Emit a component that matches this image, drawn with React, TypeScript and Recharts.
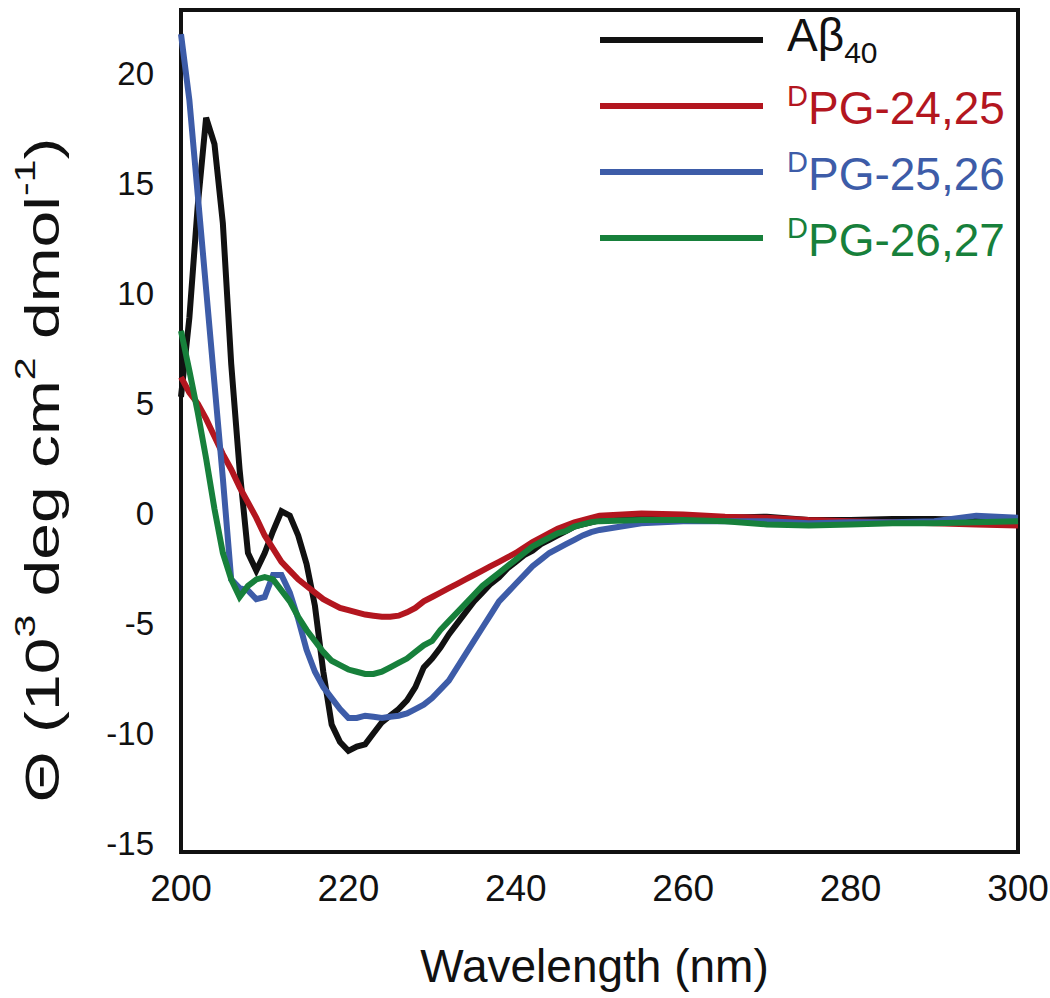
import React from 'react';
import { LineChart, Line, XAxis, YAxis, Legend, ReferenceArea } from 'recharts';

// CD spectra, wavelength in nm, ellipticity in 10^3 deg cm2 dmol-1
const wavelengths = [
  200, 201, 202, 203, 204, 205, 206, 207, 208, 209,
  210, 211, 212, 213, 214, 215, 216, 217, 218, 219,
  220, 221, 222, 223, 224, 225, 226, 227, 228, 229,
  230, 231, 232, 233, 234, 235, 236, 237, 238, 239,
  240, 241, 242, 243, 244, 245, 246, 247, 248, 249,
  250, 255, 260, 265, 270, 275, 280, 285, 290, 295, 300,
];

const abeta40 = [
  5.3, 8.9, 14.0, 18.0, 16.8, 13.2, 6.8, 2.0, -1.8, -2.6,
  -1.8, -0.8, 0.1, -0.1, -1.0, -2.3, -4.2, -7.2, -9.6, -10.4,
  -10.8, -10.6, -10.5, -10.0, -9.5, -9.2, -8.9, -8.5, -7.9, -7.0,
  -6.6, -6.1, -5.5, -5.0, -4.5, -4.0, -3.6, -3.2, -2.9, -2.5,
  -2.2, -1.9, -1.7, -1.4, -1.2, -1.0, -0.8, -0.6, -0.5, -0.4,
  -0.3, -0.15, -0.15, -0.2, -0.15, -0.3, -0.3, -0.25, -0.25, -0.3, -0.35,
];

const pg2425 = [
  6.2, 5.5, 5.0, 4.3, 3.5, 2.7, 2.0, 1.2, 0.5, -0.2,
  -1.0, -1.6, -2.2, -2.6, -3.0, -3.3, -3.6, -3.9, -4.1, -4.3,
  -4.4, -4.5, -4.6, -4.65, -4.7, -4.7, -4.65, -4.5, -4.3, -4.0,
  -3.8, -3.6, -3.4, -3.2, -3.0, -2.8, -2.6, -2.4, -2.2, -2.0,
  -1.8, -1.55, -1.3, -1.1, -0.9, -0.7, -0.55, -0.4, -0.3, -0.2,
  -0.1, 0.0, -0.05, -0.15, -0.2, -0.3, -0.35, -0.4, -0.45, -0.5, -0.55,
];

const pg2526 = [
  21.8, 18.8, 14.5, 10.2, 5.9, 1.6, -3.0, -3.4, -3.5, -3.9,
  -3.8, -2.8, -2.8, -3.6, -4.8, -6.2, -7.2, -7.9, -8.4, -8.9,
  -9.3, -9.3, -9.2, -9.25, -9.3, -9.25, -9.2, -9.1, -8.9, -8.7,
  -8.4, -8.0, -7.6, -7.0, -6.4, -5.8, -5.2, -4.6, -4.0, -3.6,
  -3.2, -2.8, -2.4, -2.1, -1.8, -1.6, -1.4, -1.2, -1.0, -0.85,
  -0.75, -0.45, -0.35, -0.35, -0.35, -0.45, -0.4, -0.4, -0.35, -0.1, -0.2,
];

const pg2627 = [
  8.3, 6.5, 4.6, 2.5, 0.2, -1.8, -3.0, -3.8, -3.3, -3.0,
  -2.9, -3.0, -3.5, -4.0, -4.7, -5.3, -5.8, -6.3, -6.7, -6.9,
  -7.1, -7.2, -7.3, -7.3, -7.2, -7.0, -6.8, -6.6, -6.3, -6.0,
  -5.8, -5.3, -4.9, -4.5, -4.1, -3.7, -3.3, -3.0, -2.7, -2.4,
  -2.1, -1.8, -1.5, -1.3, -1.1, -0.9, -0.8, -0.6, -0.5, -0.4,
  -0.35, -0.3, -0.3, -0.35, -0.5, -0.55, -0.5, -0.45, -0.45, -0.4, -0.35,
];

const xTicks = [200, 220, 240, 260, 280, 300];
const yTicks = [-15, -10, -5, 0, 5, 10, 15, 20];

const X_DOMAIN = [200, 300];
const Y_DOMAIN = [-15.4, 22.9];

const FONT = '"Liberation Sans", Arial, Helvetica, sans-serif';

// legend order = drawing order in the reference
const series = [
  { key: 'ab', color: '#111111', sup: '', main: 'Aβ', sub: '40' },
  { key: 'p2425', color: '#b3161f', sup: 'D', main: 'PG-24,25', sub: '' },
  { key: 'p2526', color: '#3d5ca8', sup: 'D', main: 'PG-25,26', sub: '' },
  { key: 'p2627', color: '#17803b', sup: 'D', main: 'PG-26,27', sub: '' },
];

const data = wavelengths.map((wl, i) => ({
  wl,
  ab: abeta40[i],
  p2425: pg2425[i],
  p2526: pg2526[i],
  p2627: pg2627[i],
}));

function LegendBox() {
  return (
    <div style={{ fontFamily: FONT }}>
      {series.map(s => (
        <div key={s.key} style={{ display: 'flex', alignItems: 'center', height: 66 }}>
          <div style={{ width: 163, height: 6, background: s.color }} />
          <div style={{ marginLeft: 24, fontSize: 46, color: s.color, lineHeight: 1, whiteSpace: 'nowrap' }}>
            {s.sup ? <span style={{ fontSize: 29, verticalAlign: 18 }}>{s.sup}</span> : null}
            {s.main}
            {s.sub ? <span style={{ fontSize: 30, verticalAlign: -12 }}>{s.sub}</span> : null}
          </div>
        </div>
      ))}
    </div>
  );
}

function XLabel(props: any) {
  const vb = props.viewBox;
  return (
    <text x={vb.x + vb.width / 2 - 5} y={vb.y + 130} textAnchor="middle" fontSize={46} fontFamily={FONT} fill="#111">
      Wavelength (nm)
    </text>
  );
}

function YLabel() {
  const cx = 42;
  const cy = 470;
  return (
    <text
      transform={`translate(${cx},${cy}) rotate(-90)`}
      textAnchor="middle"
      dominantBaseline="central"
      fontSize={48}
      fontFamily={FONT}
      fill="#111"
      textLength={665}
      lengthAdjust="spacingAndGlyphs"
    >
      Θ (10<tspan fontSize={30} dy={-18}>3</tspan>
      <tspan dy={18}> deg cm</tspan>
      <tspan fontSize={30} dy={-18}>2</tspan>
      <tspan dy={18}> dmol</tspan>
      <tspan fontSize={30} dy={-18}>-1</tspan>
      <tspan dy={18}>)</tspan>
    </text>
  );
}

export default function App() {
  return (
    <div style={{ position: 'absolute', left: 0, top: 0, width: 1050, height: 998, background: '#fff' }}>
      <LineChart width={1050} height={998} data={data} margin={{ top: 10, right: 32, left: 0, bottom: 0 }}>
        <XAxis
          xAxisId="x"
          dataKey="wl"
          type="number"
          domain={X_DOMAIN}
          ticks={xTicks}
          height={146}
          tickLine={false}
          tickSize={0}
          tickMargin={23}
          axisLine={false}
          tick={{ fontSize: 37, fill: '#111', fontFamily: FONT }}
          label={<XLabel />}
        />
        <YAxis
          yAxisId="y"
          type="number"
          domain={Y_DOMAIN}
          ticks={yTicks}
          allowDataOverflow
          width={181}
          tickLine={false}
          tickSize={0}
          tickMargin={27}
          axisLine={false}
          tick={{ fontSize: 33, fill: '#111', fontFamily: FONT }}
        />
        <Legend
          layout="vertical"
          align="center"
          verticalAlign="middle"
          content={<LegendBox />}
          wrapperStyle={{ position: 'absolute', top: 7, left: 600, width: 440, height: 264 }}
        />
        {series.map(s => (
          <Line
            key={s.key}
            xAxisId="x"
            yAxisId="y"
            dataKey={s.key}
            stroke={s.color}
            strokeWidth={6}
            dot={false}
            type="linear"
            isAnimationActive={false}
          />
        ))}
        {/* plot frame */}
        <ReferenceArea
          xAxisId="x"
          yAxisId="y"
          x1={X_DOMAIN[0]}
          x2={X_DOMAIN[1]}
          y1={Y_DOMAIN[0]}
          y2={Y_DOMAIN[1]}
          fill="none"
          fillOpacity={0}
          stroke="#111"
          strokeWidth={4}
          ifOverflow="visible"
        />
        <YLabel />
      </LineChart>
    </div>
  );
}
